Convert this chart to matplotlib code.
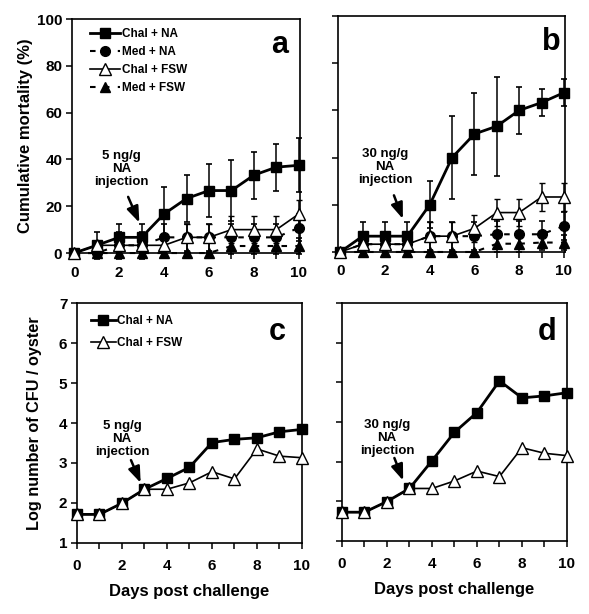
import numpy as np
import matplotlib
matplotlib.use("Agg")
import matplotlib.pyplot as plt
from matplotlib.ticker import MultipleLocator

plt.rcParams["font.family"] = ["Liberation Sans", "DejaVu Sans"]
plt.rcParams["font.weight"] = "bold"
plt.rcParams["lines.scale_dashes"] = False

# ----------------------------------------------------------
# Datos
# ----------------------------------------------------------
dias = np.arange(0, 11)

# Panel a (5 ng/g)
chal_na_a = [0, 3.3, 6.7, 6.7, 16.7, 23.3, 26.7, 26.7, 33.3, 36.7, 37.5]
chal_na_a_err = [0, 5.8, 5.8, 5.8, 11.5, 10, 11.5, 13, 10, 10, 11.5]
med_na_a = [0, 0, 3.3, 3.3, 6.7, 6.7, 6.7, 6.7, 6.7, 6.7, 10.8]
med_na_a_err = [0, 0, 5.8, 5.8, 5.8, 5.8, 5.8, 5.8, 5.8, 5.8, 5.8]
chal_fsw_a = [0, 3.3, 3.3, 3.3, 3.3, 6.7, 6.7, 10, 10, 10, 16.7]
chal_fsw_a_err = [0, 0, 0, 0, 0, 5.8, 5.8, 5.8, 5.8, 5.8, 5.8]
med_fsw_a = [0, 0, 0, 0, 0, 0, 0, 3, 3, 3, 3]
med_fsw_a_err = [0, 0, 0, 0, 0, 0, 0, 3.3, 3.3, 3.3, 3.3]

# Panel b (30 ng/g)
chal_na_b = [0, 6.7, 6.7, 6.7, 20, 40, 50, 53.3, 60, 63.3, 67.5]
chal_na_b_err = [0, 5.8, 5.8, 5.8, 10, 17.5, 17.5, 21, 10, 5.8, 5.8]
med_na_b = [0, 3.3, 3.3, 3.3, 6.7, 6.7, 6.7, 7.5, 7.5, 7.5, 11]
med_na_b_err = [0, 0, 0, 0, 5.8, 5.8, 5.8, 5.8, 5.8, 5.8, 5.8]
chal_fsw_b = [0, 3.3, 3.3, 3.3, 6.7, 6.7, 10, 16.7, 16.7, 23.3, 23.3]
chal_fsw_b_err = [0, 0, 0, 0, 5.8, 5.8, 5.8, 5.8, 5.8, 5.8, 5.8]
med_fsw_b = [0, 0, 0, 0, 0, 0, 0, 3.5, 3.5, 4, 4]
med_fsw_b_err = [0, 0, 0, 0, 0, 0, 0, 3.3, 3.3, 3.3, 3.3]

# Panel c (5 ng/g) y d (30 ng/g)
cfu_na_c = [1.71, 1.71, 1.99, 2.34, 2.61, 2.89, 3.51, 3.59, 3.63, 3.78, 3.84]
cfu_fsw_c = [1.71, 1.71, 1.99, 2.34, 2.34, 2.50, 2.78, 2.60, 3.35, 3.17, 3.13]
cfu_na_d = [1.72, 1.72, 1.99, 2.32, 3.02, 3.74, 4.24, 5.04, 4.61, 4.66, 4.74]
cfu_fsw_d = [1.72, 1.72, 1.99, 2.32, 2.32, 2.51, 2.76, 2.62, 3.35, 3.21, 3.15]

etiquetas = ["Chal + NA", "Med + NA", "Chal + FSW", "Med + FSW"]


# ----------------------------------------------------------
# Funciones auxiliares
# ----------------------------------------------------------
def estilo_ejes(ax, ylim, ymajor, con_etiquetas_y, pad_x):

    ax.set_xlim(-0.1, 10.05)
    ax.set_ylim(*ylim)
    ax.xaxis.set_major_locator(MultipleLocator(2))
    ax.xaxis.set_minor_locator(MultipleLocator(1))
    ax.yaxis.set_major_locator(MultipleLocator(ymajor))
    ax.tick_params(axis="both", which="both", direction="out",
                   length=4, width=1.1, labelsize=11)
    ax.tick_params(axis="x", pad=pad_x)
    ax.tick_params(axis="y", pad=3)
    ax.tick_params(axis="y", which="minor", length=0)
    if not con_etiquetas_y:
        ax.set_yticklabels([])
    for s in ax.spines.values():
        s.set_linewidth(1.2)
    for lab in ax.get_xticklabels() + ax.get_yticklabels():
        lab.set_fontweight("bold")


def mortalidad(ax, na, na_e, mna, mna_e, fsw, fsw_e, mfsw, mfsw_e):

    err = dict(ecolor="black", elinewidth=1.1, capsize=2.5, capthick=1.2,
               clip_on=False)

    h1 = ax.errorbar(dias, na, yerr=na_e, color="black", lw=2,
                     marker="s", ms=7, mfc="black", mec="black",
                     zorder=3, **err)
    h2 = ax.errorbar(dias, mna, yerr=mna_e, color="black", lw=1.5,
                     dashes=(4, 6), marker="o", ms=7, mfc="black",
                     mec="black", zorder=4, **err)
    h4 = ax.errorbar(dias, mfsw, yerr=mfsw_e, color="black", lw=1.5,
                     dashes=(4, 6), marker="^", ms=7, mfc="black",
                     mec="black", zorder=5, **err)
    h3 = ax.errorbar(dias, fsw, yerr=fsw_e, color="black", lw=1.2,
                     marker="^", ms=8, mfc="white", mec="black", mew=1,
                     zorder=6, **err)

    for h in (h1, h2, h3, h4):
        h[0].set_clip_on(False)

    return [h1[0], h2[0], h3[0], h4[0]]


def cfu(ax, na, fsw):

    h1, = ax.plot(dias, na, color="black", lw=2, marker="s", ms=7.5,
                  mfc="black", mec="black", clip_on=False, zorder=3)
    h2, = ax.plot(dias, fsw, color="black", lw=1.2, marker="^", ms=9,
                  mfc="white", mec="black", mew=1, clip_on=False, zorder=4)
    return [h1, h2]


def inyeccion(ax, texto, xt, yt, xy_ini, xy_fin):

    ax.text(xt, yt, texto, ha="center", va="center", fontsize=9.5,
            fontweight="bold", linespacing=1.1)
    ax.annotate("", xy=xy_fin, xytext=xy_ini,
                arrowprops=dict(arrowstyle="-|>,head_length=0.8,head_width=0.3",
                                color="black", lw=1.8,
                                mutation_scale=12, shrinkA=0, shrinkB=0))


# ----------------------------------------------------------
# Figura
# ----------------------------------------------------------
fig = plt.figure(figsize=(5.89, 6.14), dpi=100)

ax_a = fig.add_axes([0.1222, 0.5879, 0.3871, 0.3811])
ax_b = fig.add_axes([0.5739, 0.5896, 0.3854, 0.3844])
ax_c = fig.add_axes([0.1307, 0.1161, 0.3820, 0.3899])
ax_d = fig.add_axes([0.5806, 0.1194, 0.3820, 0.3866])

# Panel a
hs = mortalidad(ax_a, chal_na_a, chal_na_a_err, med_na_a, med_na_a_err,
                chal_fsw_a, chal_fsw_a_err, med_fsw_a, med_fsw_a_err)
estilo_ejes(ax_a, (0, 100), 20, True, 5)
ax_a.set_ylabel("Cumulative mortality (%)", fontsize=12,
                fontweight="bold", labelpad=3)
ax_a.legend(hs, etiquetas, loc="upper left", bbox_to_anchor=(0.055, 0.985),
            frameon=False, numpoints=1, handlelength=2.5,
            handletextpad=0.15, labelspacing=0.5, borderpad=0,
            prop={"weight": "bold", "size": 8.5})
inyeccion(ax_a, "5 ng/g\nNA\ninjection", 2.1, 36, (2.4, 24), (2.9, 13))
ax_a.text(0.91, 0.89, "a", transform=ax_a.transAxes, ha="center",
          va="center", fontsize=22, fontweight="bold")

# Panel b
mortalidad(ax_b, chal_na_b, chal_na_b_err, med_na_b, med_na_b_err,
           chal_fsw_b, chal_fsw_b_err, med_fsw_b, med_fsw_b_err)
estilo_ejes(ax_b, (0, 100), 20, False, 5)
inyeccion(ax_b, "30 ng/g\nNA\ninjection", 2.0, 36, (2.4, 24), (2.8, 14))
ax_b.text(0.94, 0.89, "b", transform=ax_b.transAxes, ha="center",
          va="center", fontsize=22, fontweight="bold")

# Panel c
hc = cfu(ax_c, cfu_na_c, cfu_fsw_c)
estilo_ejes(ax_c, (1, 7), 1, True, 8)
ax_c.set_xlim(0, 10)
ax_c.set_ylabel("Log number of CFU / oyster", fontsize=11.7,
                fontweight="bold", labelpad=12)
ax_c.set_xlabel("Days post challenge", fontsize=12, fontweight="bold",
                labelpad=8)
ax_c.legend(hc, ["Chal + NA", "Chal + FSW"], loc="upper left",
            bbox_to_anchor=(0.035, 0.975), frameon=False, numpoints=1,
            handlelength=2.1, handletextpad=0.15, labelspacing=0.85,
            borderpad=0, prop={"weight": "bold", "size": 8.5})
inyeccion(ax_c, "5 ng/g\nNA\ninjection", 2.0, 3.6, (2.4, 3.07), (2.83, 2.5))
ax_c.text(0.89, 0.88, "c", transform=ax_c.transAxes, ha="center",
          va="center", fontsize=22, fontweight="bold")

# Panel d
cfu(ax_d, cfu_na_d, cfu_fsw_d)
estilo_ejes(ax_d, (1, 7), 1, False, 8)
ax_d.set_xlim(0, 10)
ax_d.set_xlabel("Days post challenge", fontsize=12, fontweight="bold",
                labelpad=8)
inyeccion(ax_d, "30 ng/g\nNA\ninjection", 2.0, 3.6, (2.33, 3.09),
          (2.72, 2.52))
ax_d.text(0.91, 0.88, "d", transform=ax_d.transAxes, ha="center",
          va="center", fontsize=22, fontweight="bold")

fig.savefig("out.png", dpi=100)
